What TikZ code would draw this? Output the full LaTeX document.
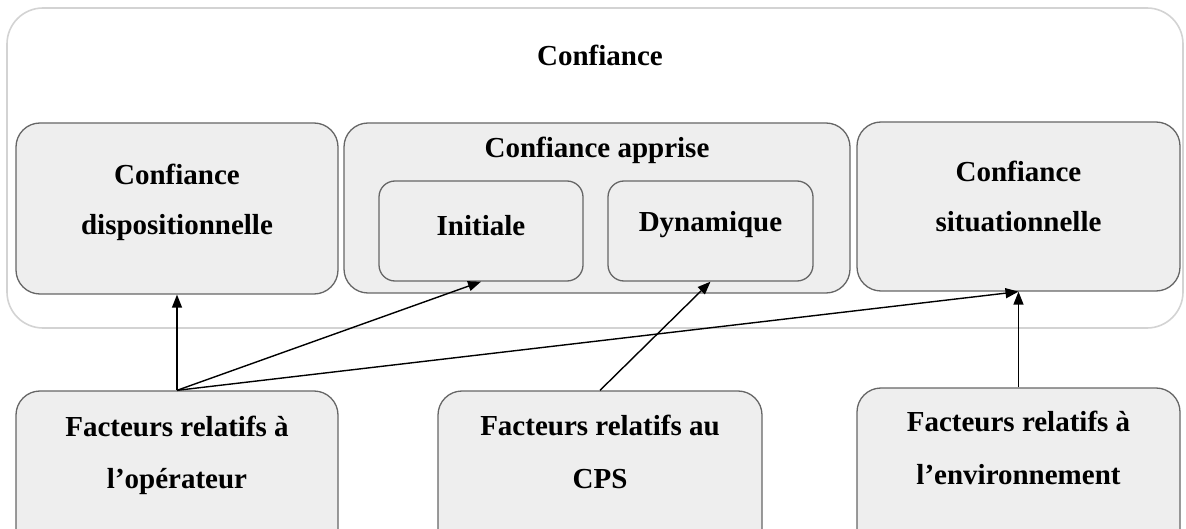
\documentclass[tikz,border=0pt]{standalone}
\usepackage{fontspec}
\setmainfont{Liberation Serif}
\usetikzlibrary{arrows.meta}
\definecolor{boxfill}{HTML}{EEEEEE}
\definecolor{boxline}{HTML}{666666}
\definecolor{outerline}{HTML}{D3D3D3}
\begin{document}
\begin{tikzpicture}[x=1pt,y=-1pt,
  box/.style={draw=boxline, fill=boxfill, line width=1.3pt, rounded corners=24pt, inner sep=0pt},
  ibox/.style={box, rounded corners=16pt},
  outerbox/.style={draw=outerline, fill=white, line width=1.6pt, rounded corners=36pt, inner sep=0pt},
  lbl/.style={font=\fontsize{29}{34}\selectfont\bfseries, anchor=base, inner sep=0pt},
  arr/.style={-{Triangle[length=13pt,width=10pt]}, line width=1.4pt, black}]
\clip (0,0) rectangle (1186,529);
\useasboundingbox (0,0) rectangle (1186,529);
% containers
\node[outerbox, minimum width=1176pt, minimum height=320pt] (outer) at (595,168) {};
\node[box, minimum width=322pt, minimum height=171pt] (disp) at (177,208.5) {};
\node[box, minimum width=506pt, minimum height=170pt] (appr) at (597,208) {};
\node[ibox, minimum width=204pt, minimum height=100pt] (init) at (481,231) {};
\node[ibox, minimum width=205pt, minimum height=100pt] (dyn) at (710.5,231) {};
\node[box, minimum width=323pt, minimum height=169pt] (sit) at (1018.5,206.5) {};
\node[box, minimum width=322pt, minimum height=169pt] (fo) at (177,475.5) {};
\node[box, minimum width=324pt, minimum height=169pt] (fc) at (600,475.5) {};
\node[box, minimum width=323pt, minimum height=169pt] (fe) at (1018.5,472.5) {};
% labels
\node[lbl] (tTitle) at (600,66) {Confiance};
\node[lbl] (tDisp1) at (177,185) {Confiance};
\node[lbl] (tDisp2) at (177,235) {dispositionnelle};
\node[lbl] (tAppr) at (597,158) {Confiance apprise};
\node[lbl] (tInit) at (481,236) {Initiale};
\node[lbl] (tDyn) at (710.5,232) {Dynamique};
\node[lbl] (tSit1) at (1018.5,182) {Confiance};
\node[lbl] (tSit2) at (1018.5,232) {situationnelle};
\node[lbl] (tFo1) at (177,436) {Facteurs relatifs à};
\node[lbl] (tFo2) at (177,488) {l’opérateur};
\node[lbl] (tFc1) at (600,435) {Facteurs relatifs au};
\node[lbl] (tFc2) at (600,488) {CPS};
\node[lbl] (tFe1) at (1018.5,431) {Facteurs relatifs à};
\node[lbl] (tFe2) at (1018.5,484) {l’environnement};
% connectors
\draw[arr] (fo.north) -- (disp.south);
\draw[arr] (fo.north) -- (init.south);
\draw[arr] (fo.north) -- (sit.south);
\draw[arr] (fc.north) -- (dyn.south);
\draw[arr] (fe.north) -- (sit.south);
\end{tikzpicture}
\end{document}
